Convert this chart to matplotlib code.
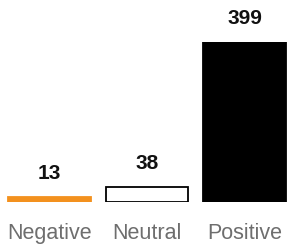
import matplotlib
matplotlib.use("Agg")
import matplotlib.pyplot as plt

# Data
categories = ["Negative", "Neutral", "Positive"]
counts = [13, 38, 399]
fill_colors = ["#f3911e", "white", "black"]
edge_colors = ["#f3911e", "black", "black"]

plt.rcParams["font.family"] = ["Liberation Sans", "DejaVu Sans"]

fig = plt.figure(figsize=(2.87, 2.51), dpi=100)
ax = fig.add_axes([0.0, 48 / 251, 1.0, 160 / 251])

x = list(range(len(categories)))
ax.bar(x, counts, width=0.85, color=fill_colors, edgecolor=edge_colors, linewidth=1.3)

# value labels above bars
for xi, v in zip(x, counts):
    ax.annotate(str(v), xy=(xi, v), xytext=(0, 17.5), textcoords="offset points",
                ha="center", va="center", fontsize=15, fontweight="bold", color="#111111")

ax.set_xlim(-0.425 - 8 / 97.5, 2.425 + 1 / 97.5)
ax.set_ylim(0, 399)
ax.set_xticks(x)
ax.set_xticklabels(categories, fontsize=15.5, color="#6e6e6e")
ax.tick_params(axis="x", length=0, pad=14.5)
ax.set_yticks([])
for s in ax.spines.values():
    s.set_visible(False)
ax.patch.set_alpha(0)

fig.savefig("out.png", dpi=100)
